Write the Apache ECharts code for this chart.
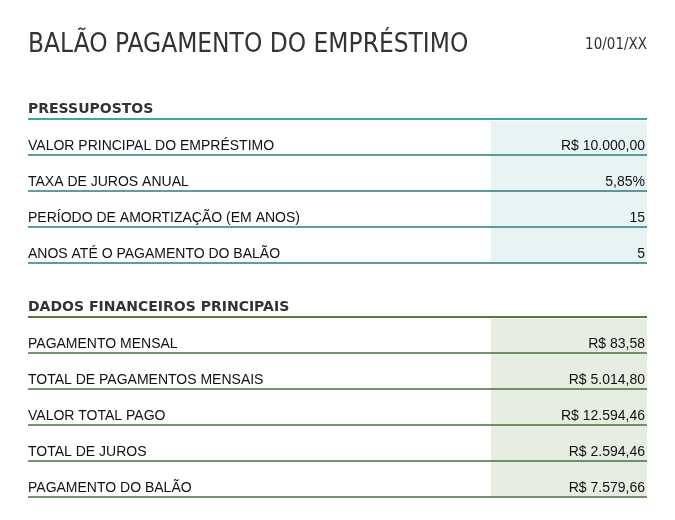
<!DOCTYPE html>
<html><head><meta charset="utf-8">
<script src="https://cdn.jsdelivr.net/npm/echarts@6/dist/echarts.min.js"></script>
<style>html,body{margin:0;background:#fff}#main{width:675px;height:520px}</style>
</head><body><div id="main"></div>
<script>
var titleText = 'BALÃO PAGAMENTO DO EMPRÉSTIMO';
var dateText = '10/01/XX';
var section1 = 'PRESSUPOSTOS';
var labels1 = ['VALOR PRINCIPAL DO EMPRÉSTIMO', 'TAXA DE JUROS ANUAL', 'PERÍODO DE AMORTIZAÇÃO (EM ANOS)', 'ANOS ATÉ O PAGAMENTO DO BALÃO'];
var values1 = ['R$ 10.000,00', '5,85%', '15', '5'];
var section2 = 'DADOS FINANCEIROS PRINCIPAIS';
var labels2 = ['PAGAMENTO MENSAL', 'TOTAL DE PAGAMENTOS MENSAIS', 'VALOR TOTAL PAGO', 'TOTAL DE JUROS', 'PAGAMENTO DO BALÃO'];
var values2 = ['R$ 83,58', 'R$ 5.014,80', 'R$ 12.594,46', 'R$ 2.594,46', 'R$ 7.579,66'];

var chart = echarts.init(document.getElementById('main'), null, {width: 675, height: 520});
var L = 28, R = 647, CX = 491, RH = 36;
var els = [];
els.push({type: 'text', x: L, y: 45, style: {text: titleText, font: '26px "DejaVu Sans Condensed", sans-serif', fill: '#333', verticalAlign: 'middle'}});
els.push({type: 'text', x: R, y: 45, style: {text: dateText, font: '15px "DejaVu Sans Condensed", sans-serif', fill: '#333', align: 'right', verticalAlign: 'middle'}});

function section(head, labels, values, top, headColor, lineColor, fillColor) {
	els.push({type: 'text', x: L, y: top - 10, style: {text: head, font: 'bold 14px "DejaVu Sans", sans-serif', fill: '#333', verticalAlign: 'middle'}});
	els.push({type: 'rect', shape: {x: CX, y: top + 2, width: R - CX, height: RH * labels.length - 2}, style: {fill: fillColor}});
	els.push({type: 'line', shape: {x1: L, y1: top, x2: R, y2: top}, style: {stroke: headColor, lineWidth: 2}});
	labels.forEach(function (lab, i) {
		var y = top + RH * (i + 1);
		els.push({type: 'text', x: L, y: y - 9, style: {text: lab, font: '14px "Liberation Sans", Arial, sans-serif', fill: '#111', verticalAlign: 'middle'}});
		els.push({type: 'text', x: R - 2, y: y - 9, style: {text: values[i], font: '14px "Liberation Sans", Arial, sans-serif', fill: '#111', align: 'right', verticalAlign: 'middle'}});
		els.push({type: 'line', shape: {x1: L, y1: y, x2: R, y2: y}, style: {stroke: lineColor, lineWidth: 1.5}});
	});
}
section(section1, labels1, values1, 119, '#3fa6a6', '#2b7b7b', '#e8f4f4');
section(section2, labels2, values2, 317, '#4f7f3a', '#4a7238', '#e6ede3');

chart.setOption({backgroundColor: '#fff', graphic: {elements: els}});
</script></body></html>
